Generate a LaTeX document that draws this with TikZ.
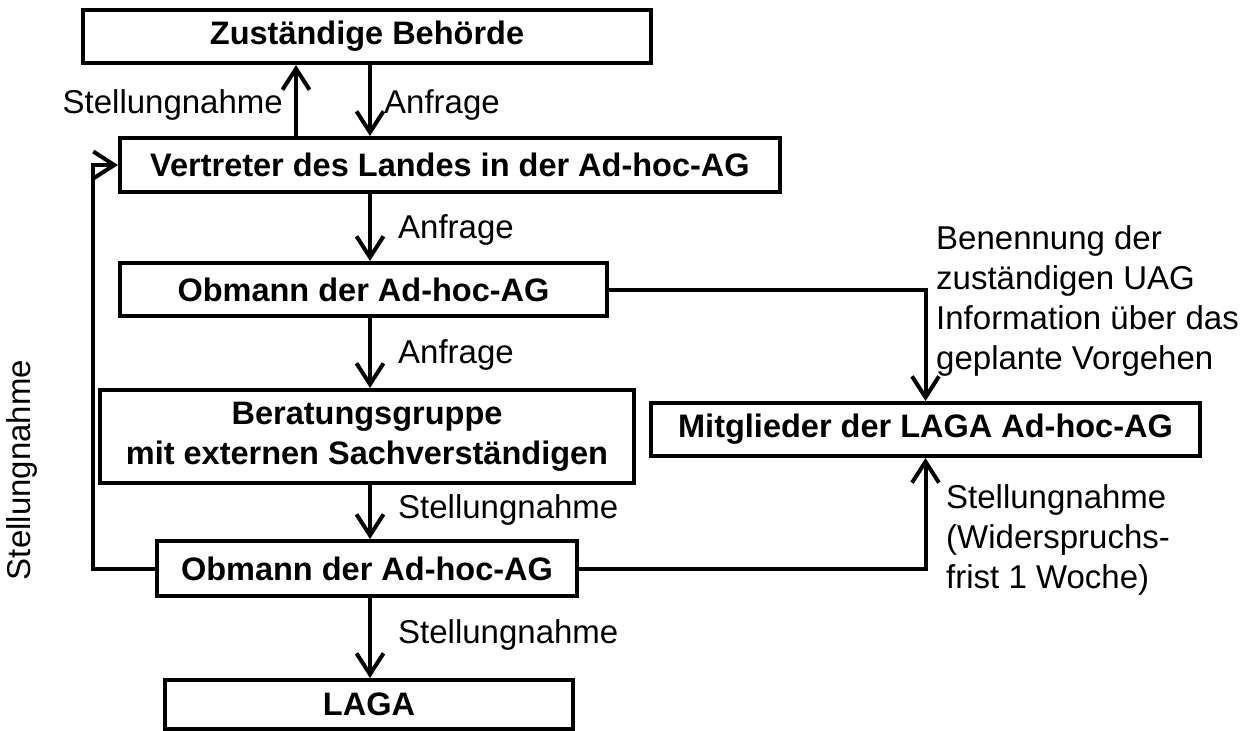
\documentclass[tikz,border=0pt]{standalone}
\usepackage{fontspec}
\setmainfont{Liberation Sans}
\usetikzlibrary{arrows.meta,calc}
\begin{document}
\begin{tikzpicture}[x=1pt,y=-1pt,
  box/.style={draw,line width=4pt,inner sep=0pt,align=center,font=\fontsize{32.5}{40}\selectfont\bfseries},
  lbl/.style={inner sep=0pt,align=left,font=\fontsize{33}{40}\selectfont},
  arr/.style={line width=4pt,-{Straight Barb[length=21pt,width=27pt,line width=4pt]}},
  ln/.style={line width=4pt}]
\useasboundingbox (0,0) rectangle (1254,731);
\node[box,minimum width=568pt,minimum height=53pt] (b1) at (367,36.5) {Zuständige Behörde};
\node[box,minimum width=660pt,minimum height=54pt] (b2) at (450,165) {Vertreter des Landes in der Ad-hoc-AG};
\node[box,minimum width=487pt,minimum height=53pt] (b3) at (363.5,289.5) {Obmann der Ad-hoc-AG};
\node[box,minimum width=534pt,minimum height=93pt] (b4) at (367,436.5) {Beratungsgruppe\\mit externen Sachverständigen};
\node[box,minimum width=549pt,minimum height=53pt] (bm) at (925.5,429.5) {Mitglieder der LAGA Ad-hoc-AG};
\node[box,minimum width=420pt,minimum height=55pt] (b5) at (367,568.5) {Obmann der Ad-hoc-AG};
\node[box,minimum width=408pt,minimum height=49pt] (b6) at (369,704.5) {LAGA};
\coordinate (ax) at (370,0);
\coordinate (ux) at (296,0);
\coordinate (lx) at (93,0);
\draw[arr] (b2.north -| ux) -- (b1.south -| ux);
\draw[arr] (b1.south -| ax) -- (b2.north -| ax);
\draw[arr] (b2.south -| ax) -- (b3.north -| ax);
\draw[arr] (b3.south -| ax) -- (b4.north -| ax);
\draw[arr] (b4.south -| ax) -- (b5.north -| ax);
\draw[arr] (b5.south -| ax) -- (b6.north -| ax);
\draw[arr] (b5.west) -- (b5.west -| lx) |- (b2.west);
\draw[arr] (b3.east) -| (bm.north);
\draw[arr] (b5.east) -| (bm.south);
\node[lbl,anchor=east] (l1) at (283,105) {Stellungnahme};
\node[lbl,anchor=west] (l2) at (384,105) {Anfrage};
\node[lbl,anchor=west] (l3) at (398,230) {Anfrage};
\node[lbl,anchor=west] (l4) at (398,355) {Anfrage};
\node[lbl,anchor=west] (l5) at (398,510) {Stellungnahme};
\node[lbl,anchor=west] (l6) at (398,635) {Stellungnahme};
\node[lbl,anchor=west] (l7) at (936,301) {Benennung der\\zuständigen UAG\\Information über das\\geplante Vorgehen};
\node[lbl,anchor=west] (l8) at (946,540) {Stellungnahme\\(Widerspruchs-\\frist 1 Woche)};
\node[lbl,rotate=90] (l9) at (22,470) {Stellungnahme};
\end{tikzpicture}
\end{document}
